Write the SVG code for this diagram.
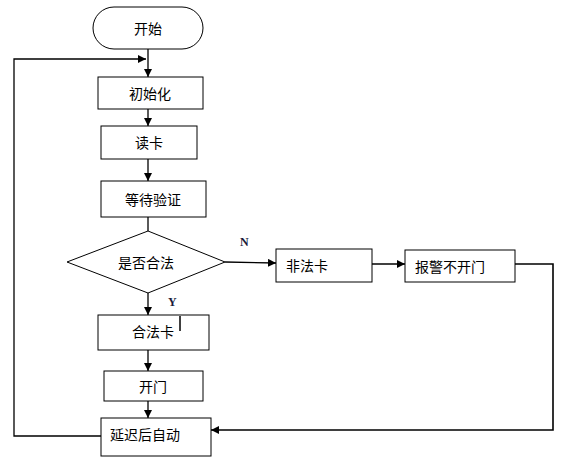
<svg xmlns="http://www.w3.org/2000/svg" width="563" height="468" viewBox="0 0 563 468">
<style>
.box{fill:#fff;stroke:#000;stroke-width:1}
.t{font-family:"Noto Sans CJK SC","Noto Sans",sans-serif;font-size:14px;fill:#000;dominant-baseline:central}
.c{text-anchor:middle}
.lbl{font-family:"Liberation Serif",serif;font-size:12px;font-weight:bold;fill:#1a1a3a}
.ln{fill:none;stroke:#000;stroke-width:1.3}
</style>
<defs>
<marker id="ah" markerWidth="8" markerHeight="8" refX="8" refY="4" orient="auto" markerUnits="userSpaceOnUse">
<path d="M0,0 L8,4 L0,8 Z" fill="#000"/>
</marker>
</defs>
<rect width="563" height="468" fill="#fff"/>
<g id="connectors">
<line class="ln" x1="148" y1="49" x2="148" y2="77" marker-end="url(#ah)"/>
<polyline class="ln" points="101,436 14,436 14,59 146,59" marker-end="url(#ah)"/>
<line class="ln" x1="148" y1="109" x2="148" y2="126" marker-end="url(#ah)"/>
<line class="ln" x1="148" y1="159" x2="148" y2="181" marker-end="url(#ah)"/>
<line class="ln" x1="148" y1="217" x2="148" y2="231"/>
<line class="ln" x1="148" y1="293" x2="148" y2="315" marker-end="url(#ah)"/>
<line class="ln" x1="148" y1="350" x2="148" y2="371" marker-end="url(#ah)"/>
<line class="ln" x1="148" y1="401" x2="148" y2="418" marker-end="url(#ah)"/>
<line class="ln" x1="225" y1="262" x2="276" y2="263" marker-end="url(#ah)"/>
<line class="ln" x1="372" y1="264" x2="405" y2="264" marker-end="url(#ah)"/>
<polyline class="ln" points="515,264 553,264 553,430 211,430" marker-end="url(#ah)" style="stroke-width:1.6"/>
<text class="lbl" x="240" y="246">N</text>
<text class="lbl" x="168" y="306">Y</text>
</g>
<g id="start">
<rect class="box" x="93" y="7" width="110" height="42" rx="21"/>
<text class="t c" x="148" y="28">开始</text>
</g>
<g id="init">
<rect class="box" x="98" y="77" width="105" height="32"/>
<text class="t c" x="150" y="93">初始化</text>
</g>
<g id="read">
<rect class="box" x="101" y="126" width="96" height="33"/>
<text class="t c" x="149" y="142">读卡</text>
</g>
<g id="wait">
<rect class="box" x="101" y="181" width="105" height="36"/>
<text class="t c" x="153" y="199">等待验证</text>
</g>
<g id="decide">
<polygon class="box" points="148,231 225,262 148,293 67,262"/>
<text class="t c" x="146" y="262">是否合法</text>
</g>
<g id="legal">
<rect class="box" x="98" y="315" width="111" height="35"/>
<text class="t c" x="153" y="331">合法卡</text>
<line x1="180" y1="316" x2="180" y2="331" stroke="#000" stroke-width="1.5"/>
</g>
<g id="open">
<rect class="box" x="104" y="371" width="99" height="30"/>
<text class="t c" x="153" y="386">开门</text>
</g>
<g id="delay">
<rect class="box" x="101" y="418" width="110" height="38"/>
<text class="t" x="110" y="434">延迟后自动</text>
</g>
<g id="illegal">
<rect class="box" x="276" y="249" width="96" height="33"/>
<text class="t" x="286" y="265">非法卡</text>
</g>
<g id="alarm">
<rect class="box" x="405" y="250" width="110" height="32"/>
<text class="t" x="415" y="266">报警不开门</text>
</g>
</svg>
